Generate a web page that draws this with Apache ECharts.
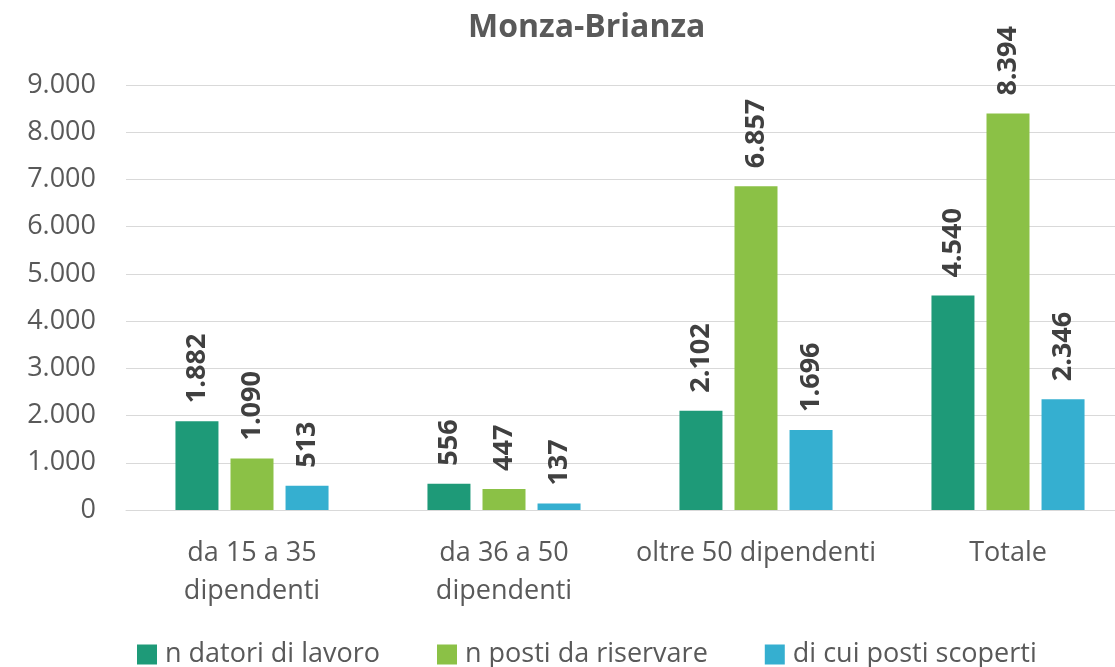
<!DOCTYPE html>
<html>
<head>
<meta charset="utf-8">
<script src="https://cdn.jsdelivr.net/npm/echarts@6/dist/echarts.min.js"></script>
<style>html,body{margin:0;padding:0;background:#fff}#c{width:1115px;height:667px}</style>
</head>
<body>
<div id="c"></div>
<script>
const categories = ["da 15 a 35\ndipendenti", "da 36 a 50\ndipendenti", "oltre 50 dipendenti", "Totale"];
const seriesNames = ["n datori di lavoro", "n posti da riservare", "di cui posti scoperti"];
const datori = [1882, 556, 2102, 4540];
const posti = [1090, 447, 6857, 8394];
const scoperti = [513, 137, 1696, 2346];
const colors = ["#1E9A78", "#8BC146", "#35AFD0"];
const title = "Monza-Brianza";

const fmt = v => String(v).replace(/\B(?=(\d{3})+(?!\d))/g, '.');
const FONT = "Open Sans";

const chart = echarts.init(document.getElementById('c'), null, {renderer: 'canvas'});
const mk = (name, data, color) => ({
  name, type: 'bar', data, barWidth: 43, barGap: '28%',
  itemStyle: {color},
  label: {
    show: true, position: 'top', rotate: 90, align: 'left', verticalAlign: 'middle',
    distance: 18, color: '#404040', fontFamily: FONT, fontWeight: 'bold', fontSize: 27,
    formatter: p => fmt(p.value)
  }
});
chart.setOption({
  animation: false,
  title: {text: title, left: 463, top: 7, textStyle: {fontFamily: FONT, fontWeight: 'bold', fontSize: 32, color: '#595959'}},
  legend: {
    left: 132, top: 636, itemWidth: 20, itemHeight: 20, itemGap: 57, icon: 'rect',
    textStyle: {fontFamily: FONT, fontSize: 27, color: '#595959', padding: [0,0,0,3]}
  },
  grid: {left: 126, top: 85, width: 1008, height: 425, outerBoundsMode: 'none', containLabel: false},
  xAxis: {
    type: 'category', data: categories,
    axisLine: {lineStyle: {color: '#d9d9d9', width: 1}},
    axisTick: {show: false},
    axisLabel: {fontFamily: FONT, fontSize: 27, color: '#595959', margin: 24, lineHeight: 38, interval: 0}
  },
  yAxis: {
    type: 'value', min: 0, max: 9000, interval: 1000,
    axisLine: {show: false}, axisTick: {show: false},
    splitLine: {lineStyle: {color: '#d9d9d9', width: 1}},
    axisLabel: {fontFamily: FONT, fontSize: 27, color: '#595959', margin: 30, formatter: v => fmt(v)}
  },
  series: [mk(seriesNames[0], datori, colors[0]), mk(seriesNames[1], posti, colors[1]), mk(seriesNames[2], scoperti, colors[2])]
});
</script>
</body>
</html>
